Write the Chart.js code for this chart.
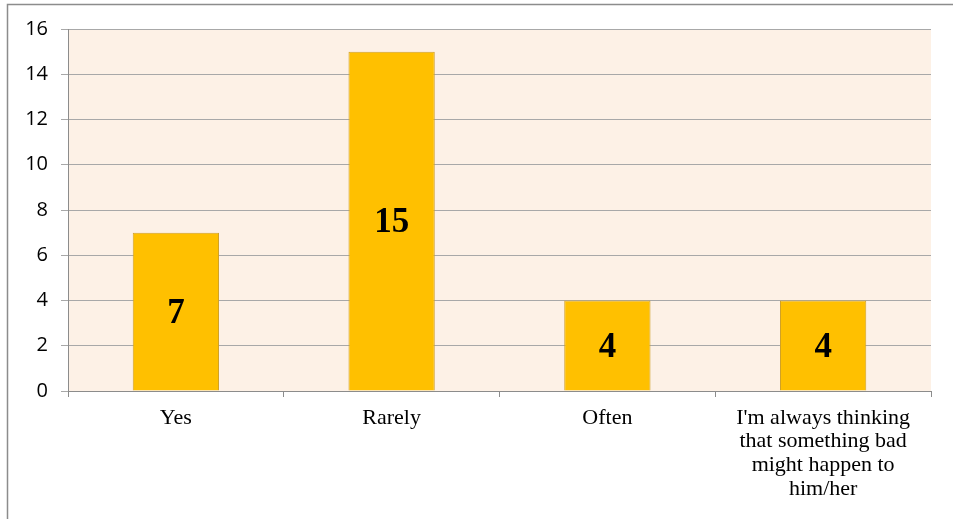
<!DOCTYPE html>
<html>
<head>
<meta charset="utf-8">
<script src="https://cdn.jsdelivr.net/npm/chart.js@4"></script>
<style>
  html, body { margin: 0; padding: 0; background: #fff; }
  #wrap { width: 953px; height: 519px; position: relative; }
</style>
</head>
<body>
<div id="wrap"><canvas id="myChart" width="953" height="519"></canvas></div>
<script>
// data
const categories = [
    "Yes",
    "Rarely",
    "Often",
    ["I'm always thinking", "that something bad", "might happen to", "him/her"]
];
const answers = [7, 15, 4, 4];
const yTicks = [0, 2, 4, 6, 8, 10, 12, 14, 16];

// peach plot background + frame lines round the chart
const backdrop = {
    id: 'backdrop',
    beforeDraw(chart) {
        const { ctx, chartArea: a } = chart;
        ctx.save();
        ctx.fillStyle = '#FDF1E6';
        ctx.fillRect(a.left, a.top, a.right - a.left, a.bottom - a.top);
        ctx.strokeStyle = '#8c8c8c';
        ctx.lineWidth = 1.5;
        ctx.beginPath();
        ctx.moveTo(7.5, 519);
        ctx.lineTo(7.5, 4.5);
        ctx.lineTo(953, 4.5);
        ctx.stroke();
        ctx.restore();
    }
};

// value written in the middle of each bar
const barLabels = {
    id: 'barLabels',
    afterDatasetsDraw(chart) {
        const { ctx } = chart;
        const meta = chart.getDatasetMeta(0);
        ctx.save();
        ctx.font = 'bold 35px "Liberation Serif", "Times New Roman", serif';
        ctx.fillStyle = '#000';
        ctx.textAlign = 'center';
        ctx.textBaseline = 'middle';
        meta.data.forEach((bar, i) => {
            const mid = (bar.y + bar.base) / 2;
            ctx.fillText(String(answers[i]), bar.x, mid + 2);
        });
        ctx.restore();
    }
};

const ctx = document.getElementById('myChart');
new Chart(ctx, {
    type: 'bar',
    data: {
        labels: categories,
        datasets: [{
            data: answers,
            backgroundColor: '#FFC000',
            borderColor: '#CFA02A',
            borderWidth: 1,
            barPercentage: 0.4,
            categoryPercentage: 1.0
        }]
    },
    options: {
        responsive: false,
        animation: false,
        layout: { padding: { top: 29, right: 22, left: 0, bottom: 0 } },
        plugins: {
            legend: { display: false },
            tooltip: { enabled: false }
        },
        scales: {
            x: {
                afterFit: (scale) => { scale.height = 128; },
                grid: {
                    offset: true,
                    drawOnChartArea: false,
                    tickLength: 6,
                    color: '#8c8c8c'
                },
                border: { color: '#8c8c8c' },
                ticks: {
                    color: '#000',
                    padding: 9,
                    maxRotation: 0,
                    font: { family: '"Liberation Serif", "Times New Roman", serif', size: 22, lineHeight: 1.08 }
                }
            },
            y: {
                min: 0,
                max: 16,
                afterFit: (scale) => { scale.width = 68; },
                afterBuildTicks: (scale) => { scale.ticks = yTicks.map(v => ({ value: v })); },
                grid: {
                    color: '#A8A8A8',
                    tickLength: 7
                },
                border: { color: '#8c8c8c' },
                ticks: {
                    color: '#000',
                    padding: 13,
                    font: { family: '"Open Sans", "Liberation Sans", sans-serif', size: 20 }
                }
            }
        }
    },
    plugins: [backdrop, barLabels]
});
</script>
</body>
</html>
